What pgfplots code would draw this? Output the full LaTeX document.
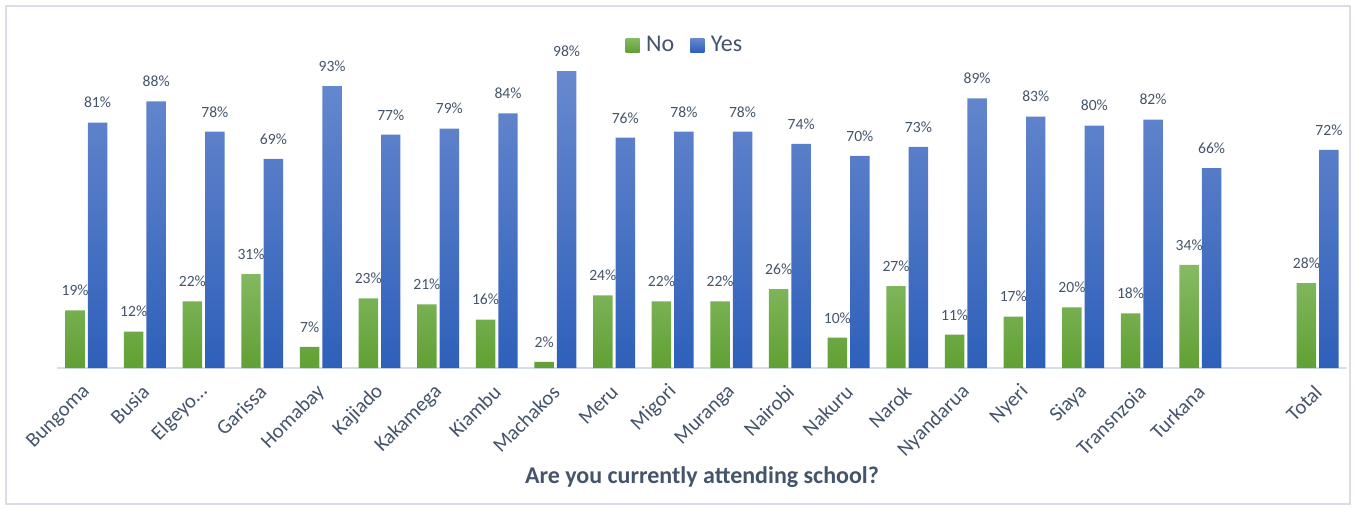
\documentclass[border=0pt]{standalone}
\usepackage{fontspec}
\setmainfont{Carlito}
\usepackage{pgfplots}
\pgfplotsset{compat=1.18}
\definecolor{txt}{RGB}{68,84,106}
\definecolor{gtop}{RGB}{134,187,100}
\definecolor{gbot}{RGB}{96,160,52}
\definecolor{btop}{RGB}{104,137,206}
\definecolor{bbot}{RGB}{46,96,186}
\definecolor{frm}{RGB}{217,222,230}
\begin{document}
\begin{tikzpicture}
\useasboundingbox (0,0) rectangle (1016.25pt,-381pt);
\draw[frm, line width=1.2pt] (4.5pt,-4.5pt) rectangle (1012.5pt,-378pt);
\begin{axis}[
  at={(42.75pt,-276pt)}, anchor=south west,
  scale only axis, width=967.5pt, height=227.25pt,
  ymin=0, ymax=100, xmin=-0.5, xmax=21.5,
  ybar=2.25pt, bar width=14.6pt,
  axis x line*=bottom, axis y line=none,
  x axis line style={draw=frm, line width=1.5pt, -},
  xtick={0,...,19,21},
  xticklabels={Bungoma,Busia,Elgeyo\ldots,Garissa,Homabay,Kajiado,Kakamega,Kiambu,Machakos,Meru,Migori,Muranga,Nairobi,Nakuru,Narok,Nyandarua,Nyeri,Siaya,Transnzoia,Turkana,Total},
  major tick length=0pt,
  x tick label style={yshift=-14pt, xshift=2pt, rotate=45, anchor=east, font=\fontsize{15.5}{18}\selectfont, text=txt, inner sep=2pt},
  /pgf/number format/assume math mode=true,
  nodes near coords={\pgfmathprintnumber{\pgfplotspointmeta}\%},
  every node near coord/.append style={anchor=base, yshift=11pt, font=\fontsize{11.7}{14}\selectfont, text=txt},
  clip=false,
  legend columns=2,
  legend style={at={(0.487,1.066)}, anchor=center, draw=none, fill=none,
    font=\fontsize{18}{21}\selectfont, text=txt,
    /tikz/every odd column/.append style={column sep=3pt},
    /tikz/every even column/.append style={column sep=10pt}},
  legend image code/.code={\path[#1, draw=none] (0pt,-5.25pt) rectangle (10.5pt,5.25pt);},
]
\addplot[draw=none, top color=gtop, bottom color=gbot] coordinates {
(0,19) (1,12) (2,22) (3,31) (4,7) (5,23) (6,21) (7,16) (8,2) (9,24)
(10,22) (11,22) (12,26) (13,10) (14,27) (15,11) (16,17) (17,20) (18,18) (19,34) (21,28)};
\addplot[draw=none, top color=btop, bottom color=bbot] coordinates {
(0,81) (1,88) (2,78) (3,69) (4,93) (5,77) (6,79) (7,84) (8,98) (9,76)
(10,78) (11,78) (12,74) (13,70) (14,73) (15,89) (16,83) (17,80) (18,82) (19,66) (21,72)};
\legend{No,Yes}
\end{axis}
\node[font=\bfseries\fontsize{18}{21}\selectfont, text=txt] at (526.5pt,-357.75pt) {Are you currently attending school?};
\end{tikzpicture}
\end{document}
